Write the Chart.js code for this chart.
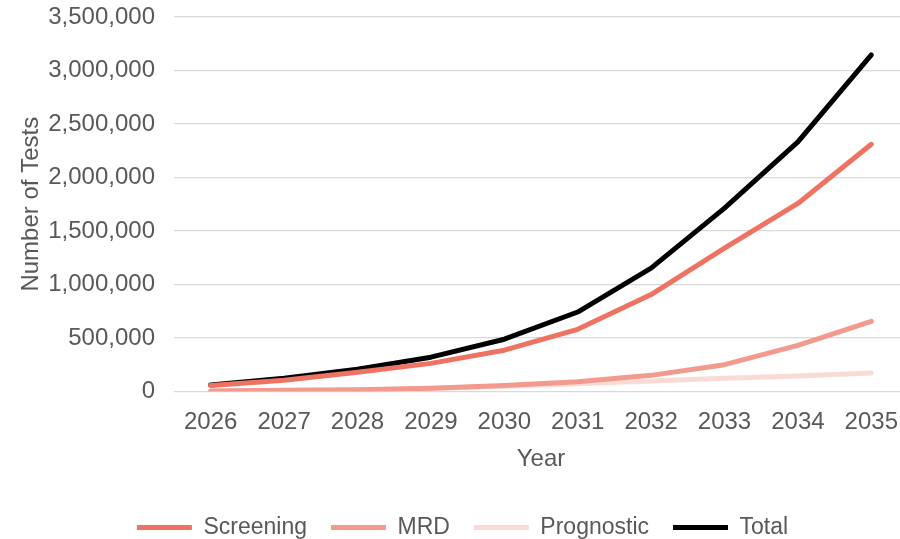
<!DOCTYPE html>
<html>
<head>
<meta charset="utf-8">
<script src="https://cdn.jsdelivr.net/npm/chart.js@4.4.0/dist/chart.umd.min.js"></script>
<style>
  html, body { margin: 0; padding: 0; background: #fff; overflow: hidden; }
  #wrap { width: 908px; height: 539px; }
</style>
</head>
<body>
<div id="wrap"><canvas id="canvas1"></canvas></div>
<script>
/* data */
var years = ['2026', '2027', '2028', '2029', '2030', '2031', '2032', '2033', '2034', '2035'];
var screening = [55000, 105000, 180000, 262000, 385000, 580000, 905000, 1340000, 1757000, 2310000];
var mrd = [3000, 10000, 15000, 30000, 55000, 90000, 150000, 250000, 430000, 655000];
var prognostic = [2000, 8000, 12000, 28000, 48000, 72000, 97000, 123000, 145000, 172000];
var total = [60000, 123000, 207000, 320000, 488000, 742000, 1152000, 1713000, 2332000, 3146000];

var grey = '#595959';
var font = 'Liberation Sans';

function line(label, data, color) {
  return {
    label: label,
    data: data,
    borderColor: color,
    backgroundColor: color,
    borderWidth: 5,
    pointRadius: 0,
    tension: 0,
    borderCapStyle: 'round',
    borderJoinStyle: 'round'
  };
}

var ctx = document.getElementById('canvas1').getContext('2d');

var myChart = new Chart(ctx, {
  type: 'line',
  data: {
    labels: years,
    datasets: [
      line('Screening', screening, '#EF7362'),
      line('MRD', mrd, '#F39A8E'),
      line('Prognostic', prognostic, '#FADAD5'),
      line('Total', total, '#000000')
    ]
  },
  options: {
    responsive: true,
    maintainAspectRatio: false,
    animation: false,
    layout: { padding: { top: 17, left: 17, right: 0, bottom: -10 } },
    plugins: {
      legend: {
        position: 'bottom',
        labels: {
          color: grey,
          font: { family: font, size: 23 },
          usePointStyle: true,
          pointStyle: 'line',
          pointStyleWidth: 55,
          padding: 24
        }
      },
      tooltip: { enabled: false }
    },
    scales: {
      x: {
        offset: true,
        grid: { display: false },
        border: { display: false },
        ticks: { color: grey, font: { family: font, size: 24 }, padding: 9, maxRotation: 0 },
        title: { display: true, text: 'Year', color: grey, font: { family: font, size: 24 }, padding: { top: -1, bottom: 18 } }
      },
      y: {
        min: 0,
        max: 3500000,
        afterFit: function (scale) {
          scale.width = 157;
          scale.paddingTop = 0;
          scale.paddingBottom = 0;
        },
        grid: { color: '#D9D9D9', lineWidth: 1.3, drawTicks: false },
        border: { display: false },
        ticks: {
          stepSize: 500000,
          color: grey,
          font: { family: font, size: 24 },
          padding: 19,
          callback: function (v) { return v.toLocaleString('en-US'); }
        },
        title: { display: true, text: 'Number of Tests', color: grey, font: { family: font, size: 24 }, padding: { top: 0, bottom: 4 } }
      }
    }
  }
});
</script>
</body>
</html>
